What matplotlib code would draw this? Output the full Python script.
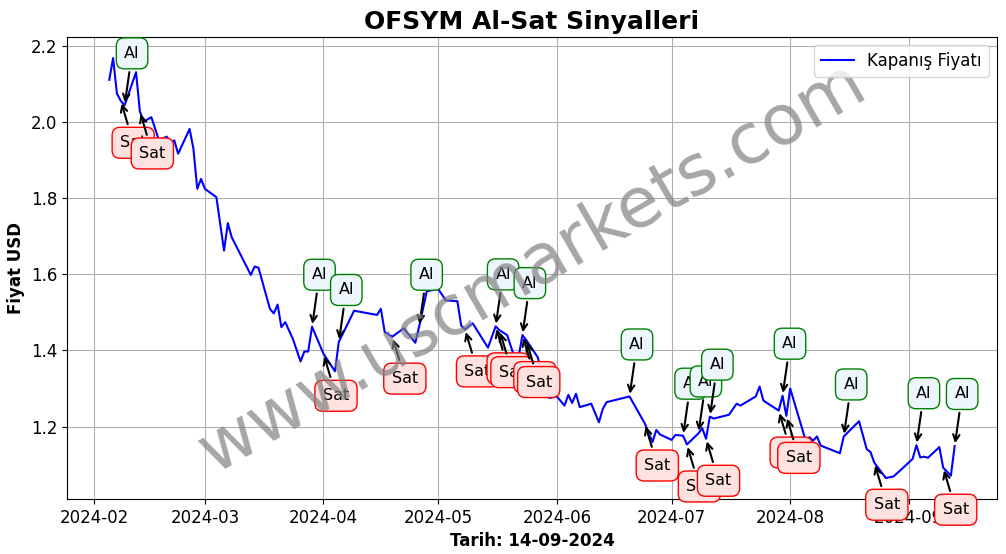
import matplotlib.pyplot as plt
import matplotlib.dates as mdates
import pandas as pd

# closing prices
dates = [
    '2024-02-05', '2024-02-06', '2024-02-07', '2024-02-08', '2024-02-09', '2024-02-12',
    '2024-02-13', '2024-02-14', '2024-02-16', '2024-02-18', '2024-02-20', '2024-02-21',
    '2024-02-22', '2024-02-23', '2024-02-26', '2024-02-27', '2024-02-28', '2024-02-29',
    '2024-03-01', '2024-03-04', '2024-03-06', '2024-03-07', '2024-03-08', '2024-03-13',
    '2024-03-14', '2024-03-15', '2024-03-18', '2024-03-19', '2024-03-20', '2024-03-21',
    '2024-03-22', '2024-03-24', '2024-03-26', '2024-03-27', '2024-03-28', '2024-03-29',
    '2024-04-01', '2024-04-04', '2024-04-05', '2024-04-09', '2024-04-15', '2024-04-16',
    '2024-04-17', '2024-04-19', '2024-04-22', '2024-04-25', '2024-04-26', '2024-04-28',
    '2024-05-01', '2024-05-03', '2024-05-06', '2024-05-07', '2024-05-08', '2024-05-10',
    '2024-05-14', '2024-05-16', '2024-05-17', '2024-05-19', '2024-05-21', '2024-05-22',
    '2024-05-23', '2024-05-24', '2024-05-27', '2024-05-30', '2024-06-01', '2024-06-03',
    '2024-06-04', '2024-06-05', '2024-06-06', '2024-06-07', '2024-06-10', '2024-06-12',
    '2024-06-13', '2024-06-14', '2024-06-20', '2024-06-24', '2024-06-26', '2024-06-27',
    '2024-06-28', '2024-07-01', '2024-07-02', '2024-07-04', '2024-07-05', '2024-07-08',
    '2024-07-09', '2024-07-10', '2024-07-11', '2024-07-12', '2024-07-16', '2024-07-18',
    '2024-07-19', '2024-07-23', '2024-07-24', '2024-07-25', '2024-07-29', '2024-07-30',
    '2024-07-31', '2024-08-01', '2024-08-05', '2024-08-06', '2024-08-07', '2024-08-08',
    '2024-08-09', '2024-08-14', '2024-08-15', '2024-08-19', '2024-08-21', '2024-08-22',
    '2024-08-23', '2024-08-26', '2024-08-28', '2024-08-30', '2024-09-02', '2024-09-03',
    '2024-09-04', '2024-09-05', '2024-09-06', '2024-09-09', '2024-09-10', '2024-09-12',
    '2024-09-13',
]
prices = [
    2.110, 2.167, 2.074, 2.055, 2.043, 2.130,
    2.027, 2.000, 2.012, 1.951, 1.961, 1.945,
    1.951, 1.916, 1.981, 1.929, 1.824, 1.850,
    1.824, 1.802, 1.662, 1.734, 1.697, 1.598,
    1.620, 1.617, 1.509, 1.497, 1.520, 1.461,
    1.474, 1.430, 1.371, 1.397, 1.397, 1.462,
    1.391, 1.345, 1.422, 1.504, 1.493, 1.509,
    1.448, 1.436, 1.458, 1.420, 1.462, 1.555,
    1.561, 1.531, 1.529, 1.465, 1.455, 1.471,
    1.407, 1.463, 1.453, 1.440, 1.380, 1.382,
    1.440, 1.427, 1.382, 1.275, 1.279, 1.255,
    1.283, 1.262, 1.286, 1.251, 1.260, 1.211,
    1.246, 1.264, 1.279, 1.208, 1.159, 1.191,
    1.179, 1.165, 1.178, 1.176, 1.153, 1.182,
    1.196, 1.168, 1.226, 1.221, 1.231, 1.260,
    1.255, 1.279, 1.305, 1.268, 1.242, 1.281,
    1.228, 1.300, 1.165, 1.172, 1.163, 1.174,
    1.150, 1.130, 1.174, 1.214, 1.141, 1.133,
    1.105, 1.065, 1.069, 1.087, 1.115, 1.151,
    1.119, 1.121, 1.118, 1.146, 1.092, 1.071,
    1.149,
]

al_dates = ['2024-02-09', '2024-03-29', '2024-04-05', '2024-04-26', '2024-05-16',
            '2024-05-23', '2024-06-20', '2024-07-04', '2024-07-08', '2024-07-11',
            '2024-07-30', '2024-08-15', '2024-09-03', '2024-09-13']
sat_dates = ['2024-02-08', '2024-02-13', '2024-04-01', '2024-04-19', '2024-05-08',
             '2024-05-16', '2024-05-17', '2024-05-23', '2024-05-24', '2024-06-24',
             '2024-07-05', '2024-07-10', '2024-07-29', '2024-07-31', '2024-08-23',
             '2024-09-10']

s = pd.Series(prices, index=pd.to_datetime(dates))

fig, ax = plt.subplots(figsize=(10.06, 5.54), dpi=100)
ax.plot(s.index, s.values, color='blue', lw=1.5, label='Kapanış Fiyatı')

arrow = dict(arrowstyle='->', color='black', lw=1.5)
for d in pd.to_datetime(al_dates):
    ax.annotate('Al', xy=(d, s[d]), xytext=(7.5, 52), textcoords='offset pixels',
                ha='center', va='center', fontsize=11.5, arrowprops=arrow,
                bbox=dict(boxstyle='round,pad=0.5', fc='#eef6fd', ec='green'))
for d in pd.to_datetime(sat_dates):
    ax.annotate('Sat', xy=(d, s[d]), xytext=(12.5, -42), textcoords='offset pixels',
                ha='center', va='center', fontsize=11.5, arrowprops=arrow,
                bbox=dict(boxstyle='round,pad=0.5', fc='#fde2e0', ec='red'))

ax.text(0.5, 0.5, 'www.uscmarkets.com', transform=ax.transAxes, fontsize=50,
        color='gray', alpha=0.7, rotation=30, ha='center', va='center')

ax.set_title('OFSYM Al-Sat Sinyalleri', fontsize=18, fontweight='bold')
ax.set_xlabel('Tarih: 14-09-2024', fontsize=12, fontweight='bold')
ax.set_ylabel('Fiyat USD', fontsize=12, fontweight='bold')
ax.xaxis.set_major_locator(mdates.MonthLocator())
ax.xaxis.set_major_formatter(mdates.DateFormatter('%Y-%m'))
ax.tick_params(labelsize=12)
ax.grid(True)
ax.legend(loc='upper right', fontsize=12)

fig.subplots_adjust(left=0.0666, right=0.991, top=0.933, bottom=0.0993)
fig.savefig('out.png', dpi=100)
